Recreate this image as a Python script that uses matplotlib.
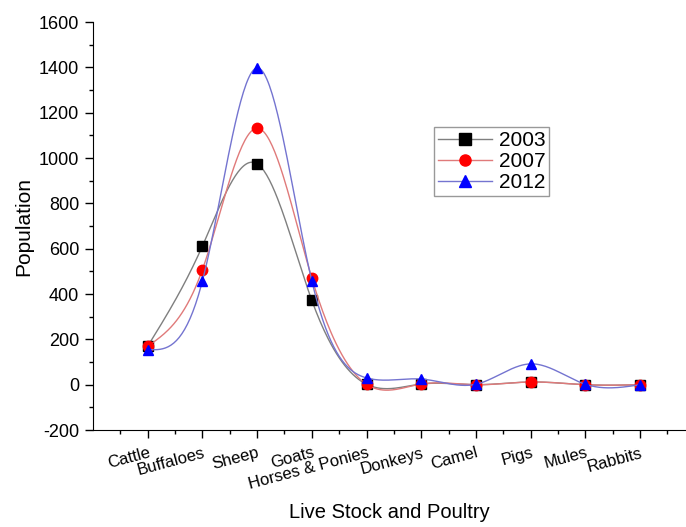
import numpy as np
import matplotlib.pyplot as plt
from matplotlib.ticker import MultipleLocator

plt.rcParams["font.family"] = ["Liberation Sans", "DejaVu Sans"]
plt.rcParams["axes.unicode_minus"] = False

categories = ["Cattle", "Buffaloes", "Sheep", "Goats", "Horses & Ponies",
              "Donkeys", "Camel", "Pigs", "Mules", "Rabbits"]
pop_2003 = [170, 612, 975, 372, 2, 3, 0, 12, 0, 0]
pop_2007 = [170, 508, 1132, 470, 2, 3, 0, 12, 0, 0]
pop_2012 = [155, 458, 1398, 458, 30, 25, 2, 92, 2, 0]


def natural_spline(x, y, n=40):
    """Natural cubic spline through the points, for the smooth connecting line."""
    x = np.asarray(x, float)
    y = np.asarray(y, float)
    k = len(x)
    h = np.diff(x)
    a = np.zeros((k, k))
    b = np.zeros(k)
    a[0, 0] = a[-1, -1] = 1
    for i in range(1, k - 1):
        a[i, i - 1] = h[i - 1]
        a[i, i] = 2 * (h[i - 1] + h[i])
        a[i, i + 1] = h[i]
        b[i] = 6 * ((y[i + 1] - y[i]) / h[i] - (y[i] - y[i - 1]) / h[i - 1])
    m = np.linalg.solve(a, b)
    xs, ys = [], []
    for i in range(k - 1):
        t = np.linspace(x[i], x[i + 1], n, endpoint=(i == k - 2))
        u = t - x[i]
        w = x[i + 1] - t
        s = (m[i] * w**3 + m[i + 1] * u**3) / (6 * h[i]) \
            + (y[i] / h[i] - m[i] * h[i] / 6) * w \
            + (y[i + 1] / h[i] - m[i + 1] * h[i] / 6) * u
        xs.append(t)
        ys.append(s)
    return np.concatenate(xs), np.concatenate(ys)


fig = plt.figure(figsize=(6.86, 5.27), dpi=100)
ax = fig.add_axes([0.1356, 0.184, 0.8644, 0.774])

xpos = np.arange(1, len(categories) + 1)
series = [
    ("2003", pop_2003, "#7f7f7f", "black", "s"),
    ("2007", pop_2007, "#e07a7a", "red", "o"),
    ("2012", pop_2012, "#7474d0", "blue", "^"),
]
for label, vals, lc, mc, mk in series:
    sx, sy = natural_spline(xpos, vals)
    ax.plot(sx, sy, color=lc, lw=1.0)
    ax.plot(xpos, vals, linestyle="none", marker=mk, color=mc, markersize=7.5)
    # legend proxy
    ax.plot([], [], color=lc, lw=1.0, marker=mk, markerfacecolor=mc,
            markeredgecolor=mc, markersize=8, label=label)

ax.set_xlim(0, 10.84)
ax.set_ylim(-200, 1600)
ax.yaxis.set_major_locator(MultipleLocator(200))
ax.yaxis.set_minor_locator(MultipleLocator(100))
ax.set_xticks(xpos)
ax.set_xticks(np.arange(0.5, 11, 0.5), minor=True)
ax.set_xticklabels(categories, rotation=15, ha="right", rotation_mode="anchor")

for side in ["top", "right"]:
    ax.spines[side].set_visible(False)
ax.tick_params(axis="both", which="major", direction="out", length=6, width=1)
ax.tick_params(axis="both", which="minor", direction="out", length=3, width=1)
ax.tick_params(axis="y", which="major", labelsize=13, pad=4)
ax.tick_params(axis="x", which="major", labelsize=12, pad=5)

ax.set_ylabel("Population", fontsize=15, labelpad=4)
ax.set_xlabel("Live Stock and Poultry", fontsize=14.5, labelpad=8)

ax.legend(loc="upper left", bbox_to_anchor=(0.575, 0.743), fontsize=15,
          frameon=True, fancybox=False, edgecolor="#808080", handlelength=2.6,
          handletextpad=0.3, borderpad=0.2, labelspacing=0.1, borderaxespad=0)

fig.savefig("out.png", dpi=100)
